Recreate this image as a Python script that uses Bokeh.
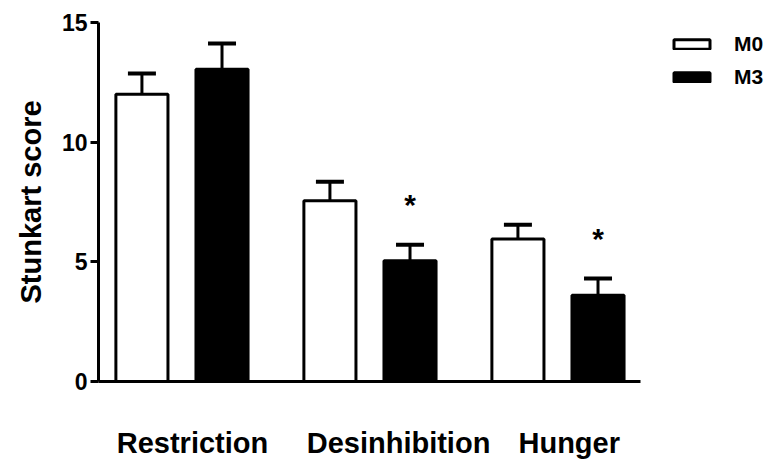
from bokeh.plotting import figure
from bokeh.models import (ColumnDataSource, Whisker, TeeHead, FixedTicker, Legend,
                          LegendItem, Range1d)
from bokeh.core.properties import value
from bokeh.embed import file_html
from bokeh.resources import INLINE

categories = ["Restriction", "Desinhibition", "Hunger"]
series = ["M0", "M3"]
m0_values = [12.0, 7.55, 5.95]
m3_values = [13.05, 5.05, 3.6]
m0_sem = [0.87, 0.8, 0.6]
m3_sem = [1.07, 0.66, 0.7]
m3_significant = [False, True, True]
y_ticks = [0, 5, 10, 15]

FONT = "Liberation Sans"
group_x = list(range(len(categories)))
offset = 0.213
bar_w = 0.277

src0 = ColumnDataSource(dict(x=[g - offset for g in group_x], top=m0_values,
                             upper=[v + s for v, s in zip(m0_values, m0_sem)]))
src3 = ColumnDataSource(dict(x=[g + offset for g in group_x], top=m3_values,
                             upper=[v + s for v, s in zip(m3_values, m3_sem)]))
star_src = ColumnDataSource(dict(
    x=[g + offset for g, s in zip(group_x, m3_significant) if s],
    y=[v + e for v, e, s in zip(m3_values, m3_sem, m3_significant) if s],
    t=["*" for s in m3_significant if s]))

p = figure(frame_width=542, frame_height=359, output_backend="svg", toolbar_location=None,
           x_range=Range1d(-0.444, 2.439), y_range=Range1d(0, 15),
           min_border_left=98, min_border_top=22, min_border_right=138, min_border_bottom=80)
p.outline_line_color = None
p.xgrid.visible = False
p.ygrid.visible = False
p.background_fill_color = "white"
p.border_fill_color = "white"

for src in (src0, src3):
    p.add_layout(Whisker(source=src, base="x", upper="upper", lower="top", dimension="height",
                         line_width=3, line_color="black",
                         upper_head=TeeHead(size=28, line_width=4, line_color="black"),
                         lower_head=None))

r0 = p.vbar(x="x", top="top", width=bar_w, bottom=0, source=src0, fill_color="white",
            line_color="black", line_width=3)
r3 = p.vbar(x="x", top="top", width=bar_w, bottom=0, source=src3, fill_color="black",
            line_color="black", line_width=3)

p.text(x="x", y="y", text="t", source=star_src, text_font=value(FONT), text_font_style="bold",
       text_font_size="30px", text_align="center", text_baseline="middle", y_offset=-40,
       text_color="black")

# y axis
ya = p.yaxis[0]
ya.ticker = FixedTicker(ticks=y_ticks)
ya.minor_tick_line_color = None
ya.major_tick_out = 8
ya.major_tick_in = 0
ya.axis_line_width = 3
ya.axis_line_color = "black"
ya.major_tick_line_width = 3
ya.major_tick_line_color = "black"
ya.major_label_text_font = FONT
ya.major_label_text_font_style = "bold"
ya.major_label_text_font_size = "23px"
ya.major_label_text_color = "black"
ya.major_label_standoff = 3
ya.axis_label = "Stunkart score"
ya.axis_label_text_font = FONT
ya.axis_label_text_font_style = "bold"
ya.axis_label_text_font_size = "29px"
ya.axis_label_text_color = "black"
ya.axis_label_standoff = 12

# x axis with category labels
xa = p.xaxis[0]
label_pos = [0.056, 1.152, 2.06]
xa.ticker = FixedTicker(ticks=label_pos)
xa.major_label_overrides = {pos: c for pos, c in zip(label_pos, categories)}
xa.minor_tick_line_color = None
xa.major_tick_line_color = None
xa.axis_line_width = 3
xa.axis_line_color = "black"
xa.major_label_text_font = FONT
xa.major_label_text_font_style = "bold"
xa.major_label_text_font_size = "29px"
xa.major_label_text_color = "black"
xa.major_label_standoff = 39

legend = Legend(items=[LegendItem(label=series[0], renderers=[r0]),
                       LegendItem(label=series[1], renderers=[r3])],
                location=(29, 292), margin=0, padding=10, border_line_color=None,
                glyph_width=45, glyph_height=12, label_height=20, spacing=9,
                label_standoff=20, label_text_font=FONT, label_text_font_style="bold",
                label_text_font_size="21px", label_text_color="black",
                background_fill_alpha=0)
p.add_layout(legend, "right")

open("out.html", "w").write(file_html(p, INLINE))
